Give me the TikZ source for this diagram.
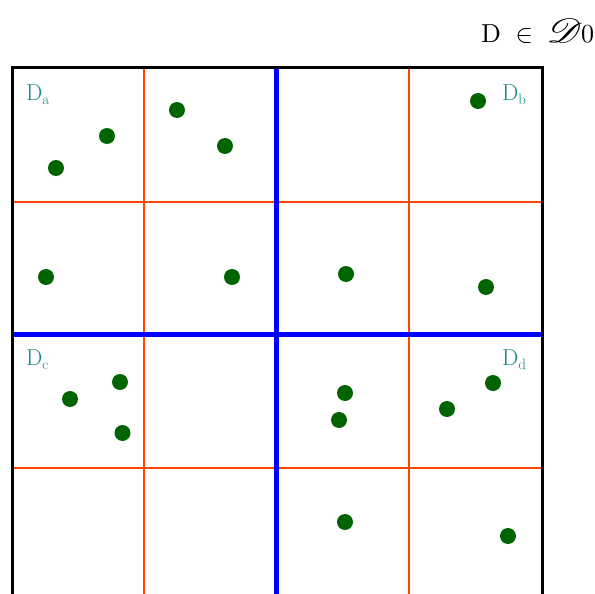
\documentclass[tikz,border=0pt]{standalone}
\usepackage{fontspec}
\usepackage{mathrsfs}
\definecolor{gridred}{RGB}{255,69,0}
\definecolor{dotgreen}{RGB}{0,100,0}
\definecolor{labteal}{RGB}{20,135,135}
\newcommand{\sublab}[1]{D\raisebox{-4.5pt}{\fontsize{15}{15}\selectfont #1}}
\begin{document}
\begin{tikzpicture}[x=1pt,y=-1pt,
  dot/.style={circle,fill=dotgreen,inner sep=0pt,minimum size=16pt},
  redline/.style={draw=gridred,line width=2pt},
  blueline/.style={draw=blue,line width=5pt},
  frame/.style={draw=black,line width=3pt},
  lab/.style={text=labteal,font=\fontsize{23}{25}\selectfont,inner sep=0pt,anchor=base west}]
\useasboundingbox (0,0) rectangle (595,594);
\clip (0,0) rectangle (595,594);
\fill[white] (0,0) rectangle (595,594);
% red grid
\draw[redline] (144.3,68) -- (144.3,601.3);
\draw[redline] (409.2,68) -- (409.2,601.3);
\draw[redline] (12,201.5) -- (542,201.5);
\draw[redline] (12,467.5) -- (542,467.5);
% blue grid
\draw[blueline] (276.3,68) -- (276.3,601.3);
\draw[blueline] (12,334.8) -- (542,334.8);
% frame
\draw[frame] (12,68) rectangle (542,601.3);
% title
\node[anchor=base west,inner sep=0pt] (title) at (481,43) {\scalebox{2.6}{$\mathrm{D}\mkern5mu\in\mkern4.5mu\scalebox{1.6}[1.3]{$\mathscr{D}$}\mkern-1mu$0}};
% labels
\node[lab] (la) at (26,100) {\sublab{a}};
\node[lab] (lb) at (502,100) {\sublab{b}};
\node[lab] (lc) at (26,365) {\sublab{c}};
\node[lab] (ld) at (502,365) {\sublab{d}};
% dots
\node[dot] (p1) at (56,168) {};
\node[dot] (p2) at (107,136) {};
\node[dot] (p3) at (177,110) {};
\node[dot] (p4) at (225,146) {};
\node[dot] (p5) at (478,101) {};
\node[dot] (p6) at (46,277) {};
\node[dot] (p7) at (232,277) {};
\node[dot] (p8) at (346,274) {};
\node[dot] (p9) at (486,287) {};
\node[dot] (p10) at (70,399) {};
\node[dot] (p11) at (120,382) {};
\node[dot] (p12) at (122.5,433) {};
\node[dot] (p13) at (345,393) {};
\node[dot] (p14) at (339,420) {};
\node[dot] (p15) at (447,409) {};
\node[dot] (p16) at (493,383) {};
\node[dot] (p17) at (345,522) {};
\node[dot] (p18) at (508,536) {};
\end{tikzpicture}
\end{document}
